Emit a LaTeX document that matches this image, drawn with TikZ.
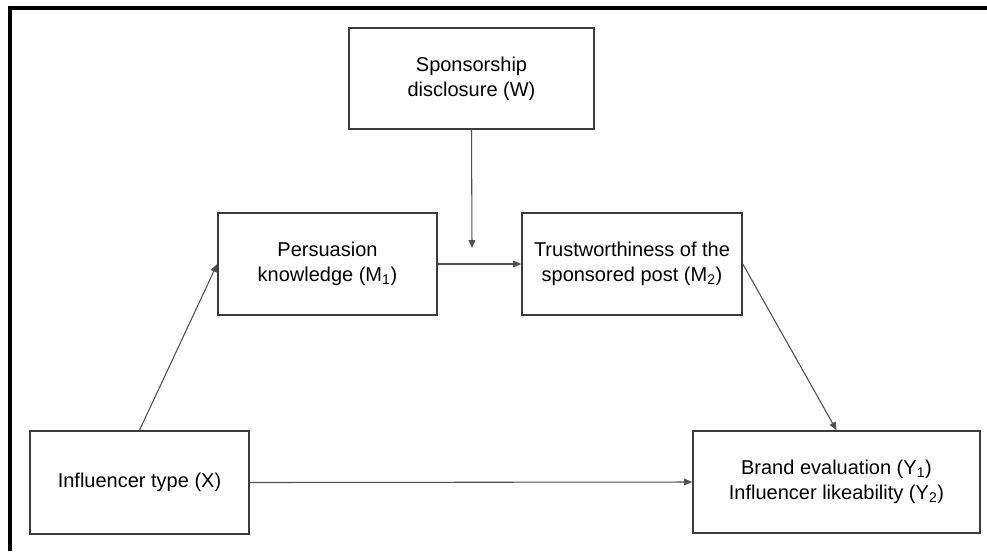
\documentclass[tikz,border=0pt]{standalone}
\usepackage{fontspec}
\setmainfont{Liberation Sans}
\usetikzlibrary{arrows.meta}
\definecolor{boxgray}{HTML}{3C3C3C}
\definecolor{arrgray}{HTML}{505050}
\begin{document}
\begin{tikzpicture}[x=0.75pt, y=-0.75pt, line width=0.9pt,
    box/.style={draw=boxgray, line width=1.2pt, align=center, inner sep=0pt,
      font=\fontsize{15}{18.75}\selectfont},
    conn/.style={draw=arrgray, line width=0.8pt, -{Triangle[length=6pt, width=5pt]}}]
  \useasboundingbox (0,0) rectangle (987,551);
  % frame (top and left only)
  \draw[line width=2.4pt] (10,551) -- (10,8) -- (987,8);
  % variables
  \node[box, minimum width=245*0.75pt, minimum height=101*0.75pt] (W) at (471.5,78.5) {Sponsorship\\disclosure (W)};
  \node[box, minimum width=219*0.75pt, minimum height=102*0.75pt] (M1) at (327.5,264) {Persuasion\\knowledge (M\textsubscript{1})};
  \node[box, minimum width=220*0.75pt, minimum height=102*0.75pt] (M2) at (632,264) {Trustworthiness of the\\sponsored post (M\textsubscript{2})};
  \node[box, minimum width=219*0.75pt, minimum height=103*0.75pt] (X) at (139.5,482.5) {Influencer type (X)};
  \node[box, minimum width=287*0.75pt, minimum height=102*0.75pt] (Y) at (836.5,482) {Brand evaluation (Y\textsubscript{1})\\Influencer likeability (Y\textsubscript{2})};
  \coordinate (mod) at (472,248);
  % paths
  \draw[conn] (X.north) -- (M1.west);
  \draw[conn] (M1.east) -- (M2.west);
  \draw[conn] (W.south) -- (mod);
  \draw[conn] (M2.east) -- (Y.north);
  \draw[conn] (X.east) -- (Y.west);
\end{tikzpicture}
\end{document}
